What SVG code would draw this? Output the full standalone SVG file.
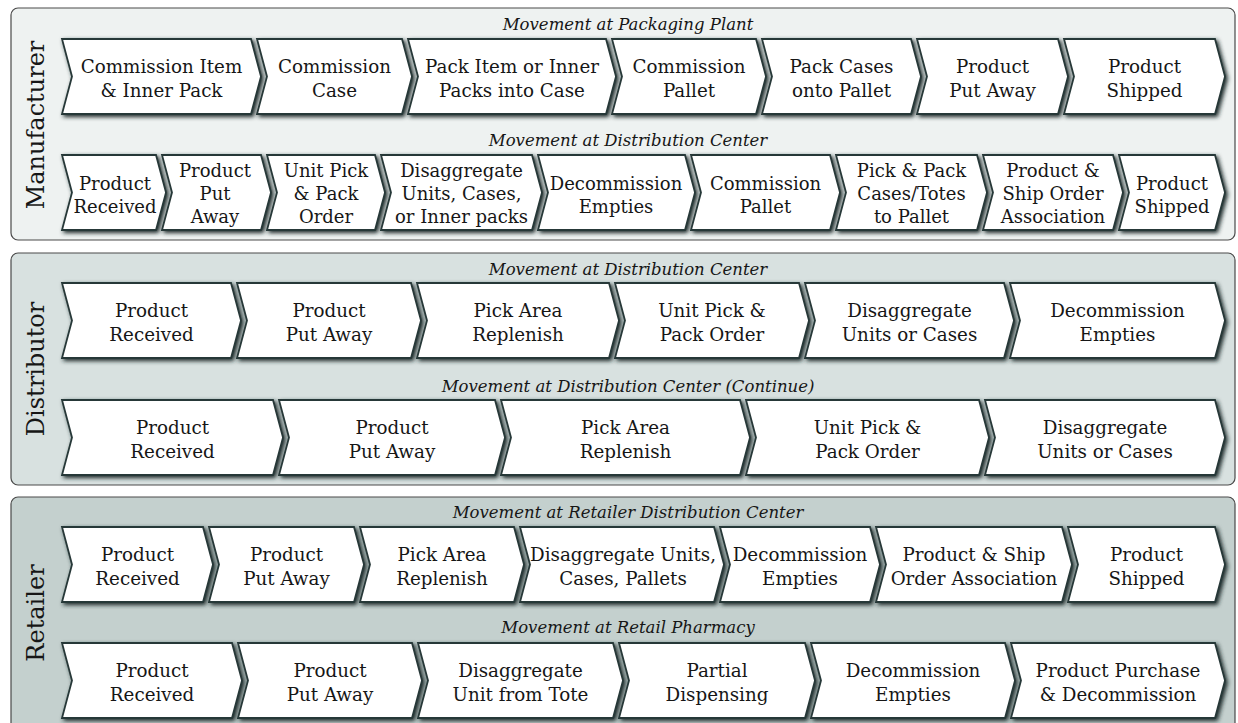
<svg xmlns="http://www.w3.org/2000/svg" width="1238" height="723" viewBox="0 0 1238 723">
<defs>
<filter id="sh" x="-5%" y="-20%" width="115%" height="150%">
<feGaussianBlur in="SourceAlpha" stdDeviation="2.2"/>
<feOffset dx="2" dy="2" result="b"/>
<feFlood flood-color="#1a2828" flood-opacity="1"/>
<feComposite in2="b" operator="in"/>
<feMerge><feMergeNode/><feMergeNode in="SourceGraphic"/></feMerge>
</filter>
</defs>
<style>
.panel{stroke:#4a4a4a;stroke-width:1.2}
.ch{fill:#ffffff;stroke:#283838;stroke-width:1.8;stroke-linejoin:miter;filter:url(#sh)}
.t{font-family:"DejaVu Serif","Liberation Serif",serif;font-size:18.3px;fill:#161616;text-anchor:middle}
.s{font-size:18px}
.sub{font-family:"DejaVu Serif","Liberation Serif",serif;font-size:16.5px;font-style:italic;fill:#161616;text-anchor:middle}
.lab{font-family:"DejaVu Serif","Liberation Serif",serif;font-size:24px;fill:#161616;text-anchor:middle}
</style>

<g id="panel-manufacturer">
<rect class="panel" x="11" y="8" width="1224" height="232" rx="7" fill="#eef2f1"/>
<text class="lab" transform="translate(44,125) rotate(-90)">Manufacturer</text>
<text class="sub" x="628" y="30">Movement at Packaging Plant</text>
<text class="sub" x="628" y="146">Movement at Distribution Center</text>
</g>
<g id="panel-distributor">
<rect class="panel" x="11" y="253" width="1224" height="232" rx="7" fill="#d8e1e0"/>
<text class="lab" transform="translate(44,369) rotate(-90)">Distributor</text>
<text class="sub" x="628" y="275">Movement at Distribution Center</text>
<text class="sub" x="628" y="392">Movement at Distribution Center (Continue)</text>
</g>
<g id="panel-retailer">
<rect class="panel" x="11" y="497" width="1224" height="240" rx="7" fill="#c4d0ce"/>
<text class="lab" transform="translate(44,613) rotate(-90)">Retailer</text>
<text class="sub" x="628" y="518">Movement at Retailer Distribution Center</text>
<text class="sub" x="628" y="633">Movement at Retail Pharmacy</text>
</g>

<!-- Manufacturer row 1: T=39 B=114 M=76.5 -->
<g id="m1-1"><polygon class="ch" points="62,39 251,39 261,76.5 251,114 62,114 72,76.5"/><text class="t" x="161.5" y="72.5">Commission Item</text><text class="t" x="161.5" y="96.5">&amp; Inner Pack</text></g>
<g id="m1-2"><polygon class="ch" points="257,39 402,39 412,76.5 402,114 257,114 267,76.5"/><text class="t" x="334.5" y="72.5">Commission</text><text class="t" x="334.5" y="96.5">Case</text></g>
<g id="m1-3"><polygon class="ch" points="408,39 606,39 616,76.5 606,114 408,114 418,76.5"/><text class="t" x="512" y="72.5">Pack Item or Inner</text><text class="t" x="512" y="96.5">Packs into Case</text></g>
<g id="m1-4"><polygon class="ch" points="612,39 756,39 766,76.5 756,114 612,114 622,76.5"/><text class="t" x="689" y="72.5">Commission</text><text class="t" x="689" y="96.5">Pallet</text></g>
<g id="m1-5"><polygon class="ch" points="762,39 911,39 921,76.5 911,114 762,114 772,76.5"/><text class="t" x="841.5" y="72.5">Pack Cases</text><text class="t" x="841.5" y="96.5">onto Pallet</text></g>
<g id="m1-6"><polygon class="ch" points="917,39 1058,39 1068,76.5 1058,114 917,114 927,76.5"/><text class="t" x="992.5" y="72.5">Product</text><text class="t" x="992.5" y="96.5">Put Away</text></g>
<g id="m1-7"><polygon class="ch" points="1064,39 1215,39 1225,76.5 1215,114 1064,114 1074,76.5"/><text class="t" x="1144.5" y="72.5">Product</text><text class="t" x="1144.5" y="96.5">Shipped</text></g>

<!-- Manufacturer row 2: T=155 B=230 M=192.5 -->
<g id="m2-1"><polygon class="ch" points="62,155 156,155 166,192.5 156,230 62,230 72,192.5"/><text class="t s" x="115" y="190">Product</text><text class="t s" x="115" y="213">Received</text></g>
<g id="m2-2"><polygon class="ch" points="162,155 261,155 271,192.5 261,230 162,230 172,192.5"/><text class="t s" x="215" y="177">Product</text><text class="t s" x="215" y="200">Put</text><text class="t s" x="215" y="223">Away</text></g>
<g id="m2-3"><polygon class="ch" points="267,155 375,155 385,192.5 375,230 267,230 277,192.5"/><text class="t s" x="326" y="177">Unit Pick</text><text class="t s" x="326" y="200">&amp; Pack</text><text class="t s" x="326" y="223">Order</text></g>
<g id="m2-4"><polygon class="ch" points="381,155 532,155 542,192.5 532,230 381,230 391,192.5"/><text class="t s" x="461.5" y="177">Disaggregate</text><text class="t s" x="461.5" y="200">Units, Cases,</text><text class="t s" x="461.5" y="223">or Inner packs</text></g>
<g id="m2-5"><polygon class="ch" points="538,155 685,155 695,192.5 685,230 538,230 548,192.5"/><text class="t s" x="616" y="190">Decommission</text><text class="t s" x="616" y="213">Empties</text></g>
<g id="m2-6"><polygon class="ch" points="691,155 830,155 840,192.5 830,230 691,230 701,192.5"/><text class="t s" x="765.5" y="190">Commission</text><text class="t s" x="765.5" y="213">Pallet</text></g>
<g id="m2-7"><polygon class="ch" points="836,155 977,155 987,192.5 977,230 836,230 846,192.5"/><text class="t s" x="911.5" y="177">Pick &amp; Pack</text><text class="t s" x="911.5" y="200">Cases/Totes</text><text class="t s" x="911.5" y="223">to Pallet</text></g>
<g id="m2-8"><polygon class="ch" points="983,155 1113,155 1123,192.5 1113,230 983,230 993,192.5"/><text class="t s" x="1053" y="177">Product &amp;</text><text class="t s" x="1053" y="200">Ship Order</text><text class="t s" x="1053" y="223">Association</text></g>
<g id="m2-9"><polygon class="ch" points="1119,155 1215,155 1225,192.5 1215,230 1119,230 1129,192.5"/><text class="t s" x="1172" y="190">Product</text><text class="t s" x="1172" y="213">Shipped</text></g>

<!-- Distributor row 1: T=283 B=358 M=320.5 -->
<g id="d1-1"><polygon class="ch" points="62,283 231,283 241,320.5 231,358 62,358 72,320.5"/><text class="t" x="151.5" y="316.5">Product</text><text class="t" x="151.5" y="340.5">Received</text></g>
<g id="d1-2"><polygon class="ch" points="237,283 411,283 421,320.5 411,358 237,358 247,320.5"/><text class="t" x="329" y="316.5">Product</text><text class="t" x="329" y="340.5">Put Away</text></g>
<g id="d1-3"><polygon class="ch" points="417,283 609,283 619,320.5 609,358 417,358 427,320.5"/><text class="t" x="518" y="316.5">Pick Area</text><text class="t" x="518" y="340.5">Replenish</text></g>
<g id="d1-4"><polygon class="ch" points="615,283 799,283 809,320.5 799,358 615,358 625,320.5"/><text class="t" x="712" y="316.5">Unit Pick &amp;</text><text class="t" x="712" y="340.5">Pack Order</text></g>
<g id="d1-5"><polygon class="ch" points="805,283 1004,283 1014,320.5 1004,358 805,358 815,320.5"/><text class="t" x="909.5" y="316.5">Disaggregate</text><text class="t" x="909.5" y="340.5">Units or Cases</text></g>
<g id="d1-6"><polygon class="ch" points="1010,283 1215,283 1225,320.5 1215,358 1010,358 1020,320.5"/><text class="t" x="1117.5" y="316.5">Decommission</text><text class="t" x="1117.5" y="340.5">Empties</text></g>

<!-- Distributor row 2: T=400 B=475 M=437.5 -->
<g id="d2-1"><polygon class="ch" points="62,400 273,400 283,437.5 273,475 62,475 72,437.5"/><text class="t" x="172.5" y="433.5">Product</text><text class="t" x="172.5" y="457.5">Received</text></g>
<g id="d2-2"><polygon class="ch" points="279,400 495,400 505,437.5 495,475 279,475 289,437.5"/><text class="t" x="392" y="433.5">Product</text><text class="t" x="392" y="457.5">Put Away</text></g>
<g id="d2-3"><polygon class="ch" points="501,400 740,400 750,437.5 740,475 501,475 511,437.5"/><text class="t" x="625.5" y="433.5">Pick Area</text><text class="t" x="625.5" y="457.5">Replenish</text></g>
<g id="d2-4"><polygon class="ch" points="746,400 979,400 989,437.5 979,475 746,475 756,437.5"/><text class="t" x="867.5" y="433.5">Unit Pick &amp;</text><text class="t" x="867.5" y="457.5">Pack Order</text></g>
<g id="d2-5"><polygon class="ch" points="985,400 1215,400 1225,437.5 1215,475 985,475 995,437.5"/><text class="t" x="1105" y="433.5">Disaggregate</text><text class="t" x="1105" y="457.5">Units or Cases</text></g>

<!-- Retailer row 1: T=527 B=602 M=564.5 -->
<g id="r1-1"><polygon class="ch" points="62,527 203,527 213,564.5 203,602 62,602 72,564.5"/><text class="t" x="137.5" y="560.5">Product</text><text class="t" x="137.5" y="584.5">Received</text></g>
<g id="r1-2"><polygon class="ch" points="209,527 354,527 364,564.5 354,602 209,602 219,564.5"/><text class="t" x="286.5" y="560.5">Product</text><text class="t" x="286.5" y="584.5">Put Away</text></g>
<g id="r1-3"><polygon class="ch" points="360,527 514,527 524,564.5 514,602 360,602 370,564.5"/><text class="t" x="442" y="560.5">Pick Area</text><text class="t" x="442" y="584.5">Replenish</text></g>
<g id="r1-4"><polygon class="ch" points="520,527 714,527 724,564.5 714,602 520,602 530,564.5"/><text class="t" x="623" y="560.5">Disaggregate Units,</text><text class="t" x="623" y="584.5">Cases, Pallets</text></g>
<g id="r1-5"><polygon class="ch" points="720,527 870,527 880,564.5 870,602 720,602 730,564.5"/><text class="t" x="800" y="560.5">Decommission</text><text class="t" x="800" y="584.5">Empties</text></g>
<g id="r1-6"><polygon class="ch" points="876,527 1062,527 1072,564.5 1062,602 876,602 886,564.5"/><text class="t" x="974" y="560.5">Product &amp; Ship</text><text class="t" x="974" y="584.5">Order Association</text></g>
<g id="r1-7"><polygon class="ch" points="1068,527 1215,527 1225,564.5 1215,602 1068,602 1078,564.5"/><text class="t" x="1146.5" y="560.5">Product</text><text class="t" x="1146.5" y="584.5">Shipped</text></g>

<!-- Retailer row 2: T=643 B=718 M=680.5 -->
<g id="r2-1"><polygon class="ch" points="62,643 232,643 242,680.5 232,718 62,718 72,680.5"/><text class="t" x="152" y="676.5">Product</text><text class="t" x="152" y="700.5">Received</text></g>
<g id="r2-2"><polygon class="ch" points="238,643 412,643 422,680.5 412,718 238,718 248,680.5"/><text class="t" x="330" y="676.5">Product</text><text class="t" x="330" y="700.5">Put Away</text></g>
<g id="r2-3"><polygon class="ch" points="418,643 613,643 623,680.5 613,718 418,718 428,680.5"/><text class="t" x="520.5" y="676.5">Disaggregate</text><text class="t" x="520.5" y="700.5">Unit from Tote</text></g>
<g id="r2-4"><polygon class="ch" points="619,643 805,643 815,680.5 805,718 619,718 629,680.5"/><text class="t" x="717" y="676.5">Partial</text><text class="t" x="717" y="700.5">Dispensing</text></g>
<g id="r2-5"><polygon class="ch" points="811,643 1005,643 1015,680.5 1005,718 811,718 821,680.5"/><text class="t" x="913" y="676.5">Decommission</text><text class="t" x="913" y="700.5">Empties</text></g>
<g id="r2-6"><polygon class="ch" points="1011,643 1215,643 1225,680.5 1215,718 1011,718 1021,680.5"/><text class="t" x="1118" y="676.5">Product Purchase</text><text class="t" x="1118" y="700.5">&amp; Decommission</text></g>

<g id="connectors"/>
</svg>
